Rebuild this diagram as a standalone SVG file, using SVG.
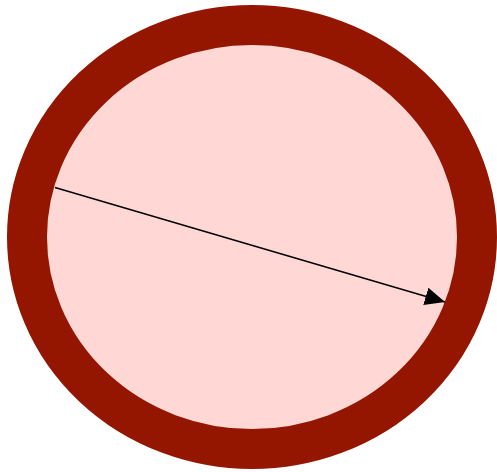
<svg xmlns="http://www.w3.org/2000/svg" width="497" height="472" viewBox="0 0 497 472">
<style>
.ring{fill:#ffd8d6;stroke:#941600;stroke-width:40}
.conn{stroke:#000;stroke-width:1.5;fill:none}
</style>
<defs>
<marker id="ah" markerUnits="userSpaceOnUse" markerWidth="22" markerHeight="20" refX="20" refY="9" orient="auto">
<path d="M0,0 L20,9 L0,18 Z" fill="#000"/>
</marker>
</defs>
<g id="node-ellipse">
<ellipse class="ring" cx="252" cy="237" rx="225" ry="212"/>
</g>
<g id="connectors">
<line class="conn" x1="55" y1="187.5" x2="445" y2="302" marker-end="url(#ah)"/>
</g>
</svg>
